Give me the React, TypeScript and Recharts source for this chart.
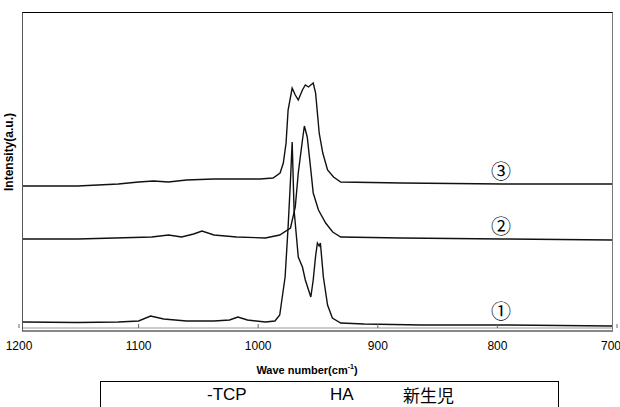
import { ComposedChart, Line, XAxis, YAxis, ReferenceLine, ReferenceDot } from "recharts";

// wave number (cm-1) and relative intensity
const tcpWave = [1197, 1151, 1117, 1100, 1090, 1079, 1060, 1037, 1024, 1017, 1009, 994, 986, 982, 977.5, 975, 973, 971.6, 970, 966.5, 963, 960.6, 956, 954, 952, 950.5, 949, 948, 945.5, 942, 938, 931, 911.5, 863, 796, 704];
const tcpVals = [6, 5.5, 6, 7, 12, 9, 7, 7, 8, 11, 8, 6, 7, 13, 51, 101, 148, 186, 118, 71, 61, 48, 31, 48, 72, 85, 82, 85, 51, 23, 10, 5, 4, 3, 3, 2];

const haWave = [1197, 1151, 1089, 1075, 1064, 1054, 1047, 1037, 1018, 994, 982, 973, 969, 966.5, 963, 961.4, 959, 956, 954, 949.6, 943.6, 937.7, 931, 880, 796, 704];
const haVals = [89, 89, 91, 93, 91, 94, 97, 93, 91, 90, 93, 100, 121, 155, 188, 202, 191, 158, 135, 118, 105, 96, 91, 90, 89, 88];

const boneWave = [1197, 1151, 1117, 1100, 1087.5, 1075, 1060, 1037, 1018, 998.6, 987.6, 981.7, 979, 976.7, 975, 971.6, 969, 966.5, 963, 960.6, 958, 954, 952, 950.5, 949, 946, 942, 937, 931, 880, 796, 704];
const boneVals = [142, 142, 144, 146, 147, 146, 148, 149, 149, 149, 150, 155, 165, 185, 218, 240, 233, 228, 238, 243, 241, 245, 235, 215, 195, 175, 158, 151, 146, 145, 144, 144];

const xTicks = [1200, 1100, 1000, 900, 800, 700];
const marks = ["①", "②", "③"];
const markLevels = [16, 101, 156];
const markWave = 797;
const legendNames = ["-TCP", "HA", "新生児"];

const toRows = (w: number[], v: number[]) => w.map((x, i) => ({ w: x, v: v[i] }));

const sans = "'Liberation Sans', Arial, sans-serif";
const cjk = "'Noto Sans CJK JP', 'Liberation Sans', sans-serif";

export default function App() {
  const series = [toRows(tcpWave, tcpVals), toRows(haWave, haVals), toRows(boneWave, boneVals)];
  const legendLeft = [207, 330, 403];

  return (
    <div style={{ position: "absolute", left: 0, top: 0, width: 620, height: 407, background: "#fff", overflow: "hidden", fontFamily: sans }}>
      <ComposedChart width={620} height={407} margin={{ top: 12, right: 3, left: 19, bottom: 49 }}>
        <XAxis
          type="number"
          dataKey="w"
          domain={[700, 1200]}
          reversed
          ticks={xTicks}
          allowDataOverflow
          height={30}
          axisLine={false}
          tickSize={-4}
          tickMargin={17}
          tick={{ fontSize: 12, fill: "#000", fontFamily: sans }}
          tickLine={{ stroke: "#666" }}
        />
        <YAxis type="number" domain={[0, 316]} hide width={0} />
        <ReferenceLine segment={[{ x: 1197, y: 0 }, { x: 704, y: 0 }]} stroke="#999" />
        {series.map((d, i) => (
          <Line
            key={i}
            data={d}
            dataKey="v"
            type="linear"
            stroke="#111"
            strokeWidth={1.4}
            dot={false}
            isAnimationActive={false}
          />
        ))}
        {marks.map((m, i) => (
          <ReferenceDot
            key={m}
            x={markWave}
            y={markLevels[i]}
            r={0}
            label={{ value: m, position: "center", fontSize: 20, fill: "#000", fontFamily: cjk }}
          />
        ))}
      </ComposedChart>
      <div
        style={{
          position: "absolute", left: 22, top: 12, width: 591, height: 320, boxSizing: "border-box",
          borderTop: "1.5px solid #000", borderLeft: "1.5px solid #555", borderRight: "1.5px solid #777", borderBottom: "2px solid #888",
          pointerEvents: "none",
        }}
      />
      <div style={{ position: "absolute", left: 0, top: 152, width: 0, height: 0 }}>
        <div style={{ position: "absolute", transform: "translate(-50%, -50%) rotate(-90deg)", left: 9, top: 0, whiteSpace: "nowrap", fontSize: 12, fontWeight: "bold" }}>
          Intensity(a.u.)
        </div>
      </div>
      <div style={{ position: "absolute", left: 307, top: 360, transform: "translateX(-50%)", whiteSpace: "nowrap", fontSize: 11, fontWeight: "bold", lineHeight: "14px" }}>
        Wave number(cm<sup style={{ fontSize: 7 }}>-1</sup>)
      </div>
      <div style={{ position: "absolute", left: 100, top: 381, width: 459, height: 40, border: "1px solid #000", boxSizing: "border-box" }}>
        {legendNames.map((n, i) => (
          <span key={n} style={{ position: "absolute", left: legendLeft[i] - 101, top: 3, fontSize: 17, lineHeight: "20px", fontFamily: i === 2 ? cjk : sans }}>
            {n}
          </span>
        ))}
      </div>
    </div>
  );
}
